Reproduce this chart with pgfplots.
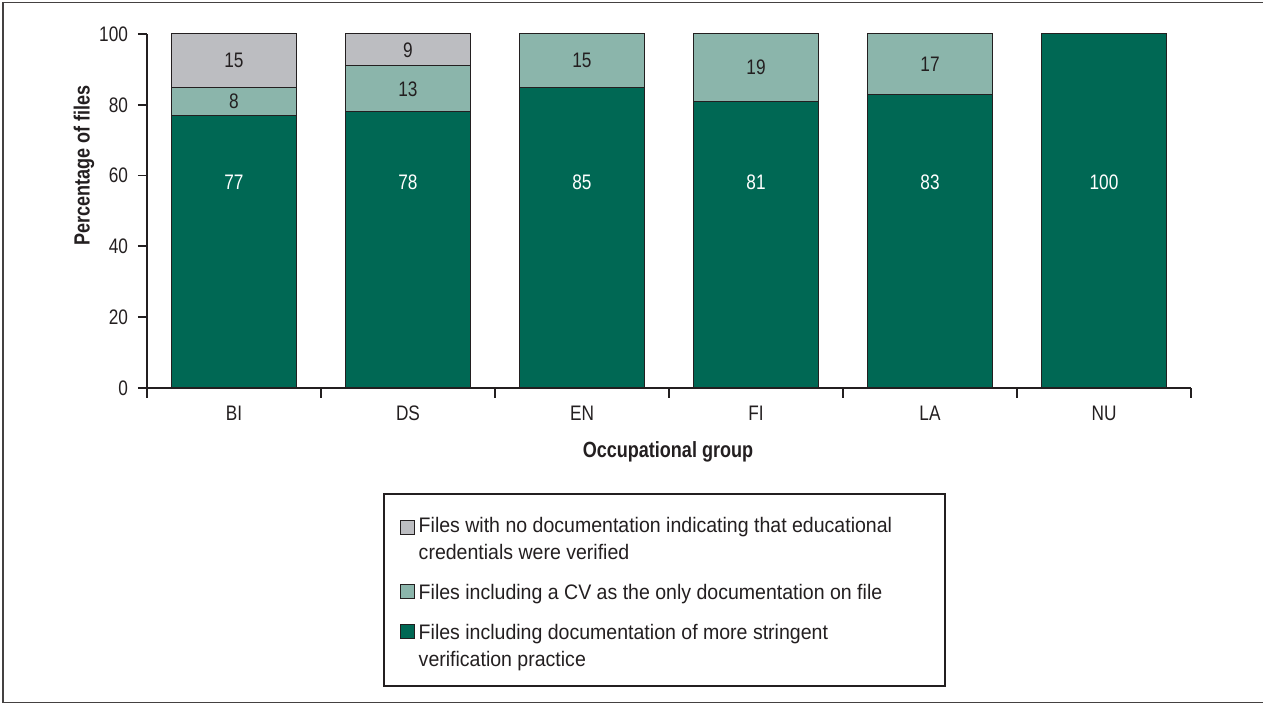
\documentclass[border=0pt]{standalone}
\usepackage{fontspec}
\setmainfont{Liberation Sans}[FakeStretch=0.82]
\newfontfamily\legfont{Liberation Sans}[FakeStretch=0.93]
\usepackage{pgfplots}
\pgfplotsset{compat=1.18}
\definecolor{dkg}{HTML}{006854}
\definecolor{ltg}{HTML}{8BB5AB}
\definecolor{gry}{HTML}{BCBDC1}
\definecolor{ink}{HTML}{231F20}
\pgfplotstableread{
x  stringent cv  none
0  77  8  15
1  78  13 9
2  85  15 0
3  81  19 0
4  83  17 0
5  100 0  0
}\datatab
\newcommand\topstrut{\rule[-3pt]{0pt}{14.5pt}}
\newcommand\first{\rule[-3pt]{0pt}{17.5pt}}
\newcommand\cont{\rule[-3pt]{0pt}{11pt}}
\begin{document}
\begin{tikzpicture}[x=1pt,y=1pt]
\path[use as bounding box] (-73.5,-158) rectangle (558,194);
\draw[line width=0.9pt, color=ink!85] (560,192.75) -- (-72,192.75) -- (-72,-157.25) -- (560,-157.25);
\begin{axis}[
  at={(0,0)}, anchor=south west,
  scale only axis, width=522pt, height=177pt,
  ymin=0, ymax=100, xmin=-0.5, xmax=5.5,
  ytick={0,20,...,100},
  xtick={0,...,5}, xticklabels={BI,DS,EN,FI,LA,NU},
  minor xtick={-0.5,0.5,...,5.5},
  ybar stacked, bar width=62.5pt,
  axis x line*=bottom, axis y line*=left,
  axis line style={-, line width=1.1pt, ink},
  tick align=outside,
  major tick length=4.5pt, minor tick length=5pt,
  major x tick style={draw opacity=0},
  tick style={ink, line width=0.9pt},
  /pgf/number format/assume math mode=true,
  tick label style={font=\fontsize{10.5}{12}\selectfont, text=ink},
  yticklabel style={xshift=-1.5pt},
  xticklabel style={yshift=-1pt},
  every axis y label/.style={at={(axis description cs:-0.0603,0.628)}, rotate=90, anchor=center, font=\bfseries\fontsize{11}{13}\selectfont, text=ink},
  every axis x label/.style={at={(axis description cs:0.499,-0.181)}, anchor=center, font=\bfseries\fontsize{11}{13}\selectfont, text=ink},
  ylabel={Percentage of files},
  xlabel={Occupational group},
  visualization depends on={rawy \as \rawy},
  nodes near coords={\ifdim\rawy pt>0pt \pgfmathprintnumber{\rawy}\fi},
  every node near coord/.append style={font=\fontsize{10.5}{12}\selectfont, anchor=center,
     text=\txtcol, yshift={\isdark*(58-\rawy/2)*1.77pt}},
  legend style={at={(0.226,-0.297)}, anchor=north west, draw=ink, line width=0.8pt,
    font=\legfont\fontsize{10.5}{12}\selectfont, text=ink,
    inner xsep=8pt, inner ysep=6pt, row sep=0pt,
    cells={anchor=base west}},
  legend cell align=left,
  legimg/.style={legend image code/.code={\draw[##1, draw=ink, line width=0.5pt] (0pt,-6pt) rectangle (7pt,1pt);}},
]
\addplot[forget plot, fill=dkg, draw=ink, line width=0.5pt,
  visualization depends on={value 1 \as \isdark},
  visualization depends on={value white \as \txtcol}]
  table[x=x, y=stringent] {\datatab};
\addplot[forget plot, fill=ltg, draw=ink, line width=0.5pt,
  visualization depends on={value 0 \as \isdark},
  visualization depends on={value ink \as \txtcol}]
  table[x=x, y=cv] {\datatab};
\addplot[forget plot, fill=gry, draw=ink, line width=0.5pt,
  visualization depends on={value 0 \as \isdark},
  visualization depends on={value ink \as \txtcol}]
  table[x=x, y=none] {\datatab};
\addlegendimage{legimg, fill=gry}
\addlegendentry{\topstrut Files with no documentation indicating that educational\rule{16.5pt}{0pt}}
\addlegendimage{empty legend}
\addlegendentry{\cont credentials were verified}
\addlegendimage{legimg, fill=ltg}
\addlegendentry{\first Files including a CV as the only documentation on file}
\addlegendimage{legimg, fill=dkg}
\addlegendentry{\first Files including documentation of more stringent}
\addlegendimage{empty legend}
\addlegendentry{\cont verification practice}
\end{axis}
\end{tikzpicture}
\end{document}
